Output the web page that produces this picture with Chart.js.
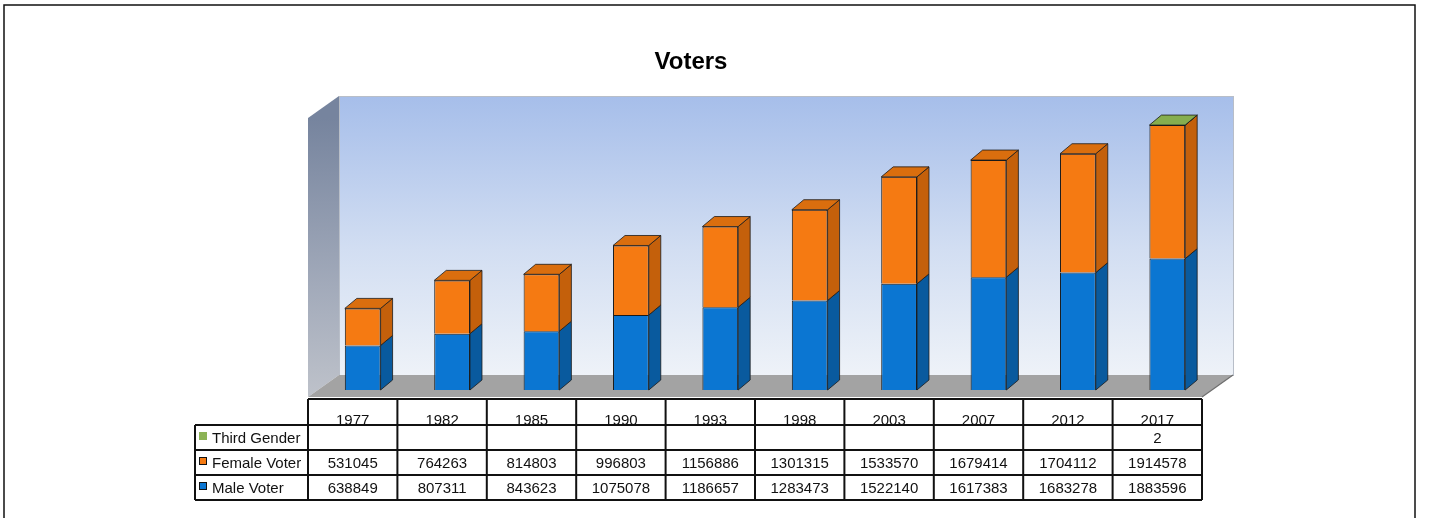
<!DOCTYPE html>
<html>
<head>
<meta charset="utf-8">
<style>
  html, body { margin: 0; padding: 0; background: #fff; }
  canvas { display: block; }
</style>
<script src="https://cdn.jsdelivr.net/npm/chart.js"></script>
</head>
<body>
<canvas id="voters" width="1440" height="518"></canvas>
<script>
const chartTitle = 'Voters';
const years = ['1977', '1982', '1985', '1990', '1993', '1998', '2003', '2007', '2012', '2017'];
const maleVoters = [638849, 807311, 843623, 1075078, 1186657, 1283473, 1522140, 1617383, 1683278, 1883596];
const femaleVoters = [531045, 764263, 814803, 996803, 1156886, 1301315, 1533570, 1679414, 1704112, 1914578];
const thirdGender = [null, null, null, null, null, null, null, null, null, 2];
const seriesNames = ['Male Voter', 'Female Voter', 'Third Gender'];
const yMax = 4000000;

// face colours per series: front, side, top
const faceColors = [
  { front: '#0B76D2', side: '#095A9E', top: '#0A66B5' },
  { front: '#F57A12', side: '#C4600B', top: '#DA6E0E' },
  { front: '#8CB356', side: '#6E9040', top: '#86AE4E' }
];

const BAR_DX = 12, BAR_DY = 10;     // bar depth
const PLANE_DX = 10, PLANE_DY = 7;  // bars sit this far behind the front plane
const WALL_DX = 31, WALL_DY = 22;   // full depth of the box

function poly(ctx, pts, fill, stroke, lw) {
  ctx.beginPath();
  ctx.moveTo(pts[0][0], pts[0][1]);
  for (let i = 1; i < pts.length; i++) ctx.lineTo(pts[i][0], pts[i][1]);
  ctx.closePath();
  if (fill) { ctx.fillStyle = fill; ctx.fill(); }
  if (stroke) { ctx.strokeStyle = stroke; ctx.lineWidth = lw || 1; ctx.stroke(); }
}

function frontPlane(chart) {
  const a = chart.chartArea;
  return { x0: a.left - PLANE_DX, x1: a.right - PLANE_DX, y0: a.top + PLANE_DY, y1: a.bottom + PLANE_DY };
}

const scene3d = {
  id: 'scene3d',
  beforeDraw(chart) {
    const ctx = chart.ctx;
    const f = frontPlane(chart);
    const b = { x0: f.x0 + WALL_DX, x1: f.x1 + WALL_DX, y0: f.y0 - WALL_DY, y1: f.y1 - WALL_DY };
    ctx.save();
    ctx.fillStyle = '#fff';
    ctx.fillRect(0, 0, chart.width, chart.height);

    // outer frame
    ctx.strokeStyle = '#111';
    ctx.lineWidth = 1.5;
    ctx.strokeRect(4, 5, 1411, 540);

    // title
    ctx.fillStyle = '#000';
    ctx.font = 'bold 24px "Liberation Sans", Arial, sans-serif';
    ctx.textAlign = 'center';
    ctx.textBaseline = 'alphabetic';
    ctx.fillText(chartTitle, 691, 69);

    // back wall
    const gw = ctx.createLinearGradient(0, b.y0, 0, b.y1);
    gw.addColorStop(0, '#A6BEEA');
    gw.addColorStop(0.55, '#D2DEF2');
    gw.addColorStop(1, '#EEF2F8');
    ctx.fillStyle = gw;
    ctx.fillRect(b.x0, b.y0, b.x1 - b.x0, b.y1 - b.y0);
    ctx.strokeStyle = '#B8BEC8';
    ctx.lineWidth = 1;
    ctx.strokeRect(b.x0 + 0.5, b.y0 + 0.5, b.x1 - b.x0, b.y1 - b.y0);

    // left wall
    const gl = ctx.createLinearGradient(0, f.y0, 0, f.y1);
    gl.addColorStop(0, '#76849E');
    gl.addColorStop(0.6, '#A2AABA');
    gl.addColorStop(1, '#BEC2CA');
    poly(ctx, [[f.x0, f.y0], [b.x0, b.y0], [b.x0, b.y1], [f.x0, f.y1]], gl);

    // floor
    poly(ctx, [[f.x0, f.y1], [b.x0, b.y1], [b.x1, b.y1], [f.x1, f.y1]], '#A3A3A3');
    ctx.strokeStyle = '#6E6E6E';
    ctx.lineWidth = 1.2;
    ctx.beginPath();
    ctx.moveTo(f.x1, f.y1);
    ctx.lineTo(b.x1, b.y1);
    ctx.stroke();
    ctx.restore();
  },
  afterDatasetsDraw(chart) {
    const ctx = chart.ctx;
    const sets = chart.data.datasets;
    ctx.save();
    ctx.lineJoin = 'round';
    for (let d = 0; d < sets.length; d++) {
      const meta = chart.getDatasetMeta(d);
      meta.data.forEach((el, i) => {
        const v = sets[d].data[i];
        if (v === null || v === undefined) return;
        const p = el.getProps(['x', 'y', 'base', 'width'], true);
        const l = p.x - p.width / 2, r = p.x + p.width / 2;
        const c = faceColors[d];
        poly(ctx, [[r, p.y], [r + BAR_DX, p.y - BAR_DY], [r + BAR_DX, p.base - BAR_DY], [r, p.base]], c.side, '#1a1a1a', 0.8);
        let topmost = true;
        for (let k = d + 1; k < sets.length; k++) {
          if (sets[k].data[i] !== null && sets[k].data[i] !== undefined) topmost = false;
        }
        if (topmost) {
          poly(ctx, [[l, p.y], [l + BAR_DX, p.y - BAR_DY], [r + BAR_DX, p.y - BAR_DY], [r, p.y]], c.top, '#1a1a1a', 0.8);
        }
      });
    }
    ctx.restore();
    drawTable(chart);
  }
};

function drawTable(chart) {
  const ctx = chart.ctx;
  const f = frontPlane(chart);
  const n = years.length;
  const colW = (f.x1 - f.x0) / n;
  const top = f.y1 + 2;
  const headH = 26, rowH = 25;
  const labelX = 195;
  const rows = [
    { name: seriesNames[2], data: thirdGender, color: faceColors[2].front, boxed: false },
    { name: seriesNames[1], data: femaleVoters, color: faceColors[1].front, boxed: true },
    { name: seriesNames[0], data: maleVoters, color: faceColors[0].front, boxed: true }
  ];
  const bottom = top + headH + rows.length * rowH;
  ctx.save();
  ctx.fillStyle = '#fff';
  ctx.fillRect(f.x0, top, f.x1 - f.x0, headH);
  ctx.fillRect(labelX, top + headH, f.x1 - labelX, rows.length * rowH);

  ctx.font = '15px "Liberation Sans", Arial, sans-serif';
  ctx.fillStyle = '#111';
  ctx.textAlign = 'center';
  ctx.textBaseline = 'alphabetic';
  years.forEach((y, i) => ctx.fillText(y, f.x0 + (i + 0.5) * colW, top + headH));

  rows.forEach((row, r) => {
    const ry = top + headH + r * rowH;
    ctx.textAlign = 'center';
    ctx.fillStyle = '#111';
    row.data.forEach((v, i) => {
      if (v === null || v === undefined) return;
      ctx.fillText(String(v), f.x0 + (i + 0.5) * colW, ry + 18);
    });
    ctx.fillStyle = row.color;
    ctx.fillRect(labelX + 4, ry + 7, 8, 8);
    if (row.boxed) {
      ctx.strokeStyle = '#111';
      ctx.lineWidth = 1;
      ctx.strokeRect(labelX + 4.5, ry + 7.5, 7, 7);
    }
    ctx.fillStyle = '#111';
    ctx.textAlign = 'left';
    ctx.fillText(row.name, labelX + 17, ry + 18);
  });

  // grid lines
  ctx.strokeStyle = '#111';
  ctx.lineWidth = 2;
  ctx.beginPath();
  ctx.moveTo(f.x0, top); ctx.lineTo(f.x1, top);
  for (let r = 0; r <= rows.length; r++) {
    const y = top + headH + r * rowH;
    ctx.moveTo(labelX, y); ctx.lineTo(f.x1, y);
  }
  for (let i = 0; i <= n; i++) {
    const x = f.x0 + i * colW;
    ctx.moveTo(x, top); ctx.lineTo(x, bottom);
  }
  ctx.moveTo(labelX, top + headH); ctx.lineTo(labelX, bottom);
  ctx.stroke();
  ctx.restore();
}

new Chart(document.getElementById('voters'), {
  type: 'bar',
  data: {
    labels: years,
    datasets: [
      { label: seriesNames[0], data: maleVoters, backgroundColor: faceColors[0].front },
      { label: seriesNames[1], data: femaleVoters, backgroundColor: faceColors[1].front },
      { label: seriesNames[2], data: thirdGender, backgroundColor: faceColors[2].front }
    ].map(ds => Object.assign(ds, {
      borderColor: '#1a1a1a',
      borderWidth: 1,
      barPercentage: 0.4,
      categoryPercentage: 1.0
    }))
  },
  options: {
    responsive: false,
    devicePixelRatio: 1,
    animation: false,
    layout: { padding: { left: 318, right: 228, top: 111, bottom: 128 } },
    scales: {
      x: { display: false, stacked: true },
      y: { display: false, stacked: true, min: 0, max: yMax }
    },
    plugins: {
      legend: { display: false },
      title: { display: false },
      tooltip: { enabled: false }
    }
  },
  plugins: [scene3d]
});
</script>
</body>
</html>
